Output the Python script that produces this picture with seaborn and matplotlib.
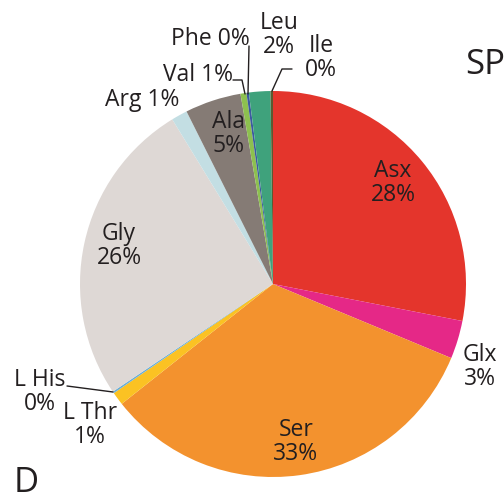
import matplotlib
matplotlib.use("Agg")
import matplotlib.pyplot as plt
import seaborn as sns

# Данни: аминокиселинен състав (по часовниковата стрелка от 12 часа)
acids = ["Asx", "Glx", "Ser", "L Thr", "L His", "Gly", "Arg", "Ala", "Val", "Phe", "Leu", "Ile"]
shares = [28.1, 3.2, 33.1, 1.1, 0.15, 25.7, 1.35, 4.7, 0.5, 0.2, 1.8, 0.2]
pct_labels = ["28%", "3%", "33%", "1%", "0%", "26%", "1%", "5%", "1%", "0%", "2%", "0%"]
colors = ["#E4352C", "#E52887", "#F3922E", "#FBC223", "#6AAED6", "#DED8D5",
          "#C3DEE3", "#857B75", "#8DC04F", "#3C5AA0", "#3FA27C", "#5B5A30"]

sns.set_theme(style="white")
plt.rcParams["font.family"] = ["Open Sans", "DejaVu Sans"]

W, H = 504, 502
CX, CY, R = 273, 285, 193


def px(x, y):
    """Пиксели -> координати на данните (радиус на пая = 1)."""
    return (x - CX) / R, (CY - y) / R


fig = plt.figure(figsize=(W / 100, H / 100), dpi=100)
ax = fig.add_axes([0, 0, 1, 1])
ax.pie(shares, colors=colors, startangle=90, counterclock=False,
       wedgeprops=dict(linewidth=0))
x0, _ = px(0, 0)
x1, _ = px(W, 0)
_, y1 = px(0, 0)
_, y0 = px(0, H)
ax.set_xlim(x0, x1)
ax.set_ylim(y0, y1)
ax.set_aspect("equal", adjustable="box")
ax.axis("off")

# Позиции на надписите (в пиксели)
label_pos = {
    "Asx": (393, 183, "two"),
    "Glx": (480, 367, "two"),
    "Ser": (296, 442, "two"),
    "L Thr": (90, 425, "two"),
    "L His": (40, 392, "two"),
    "Gly": (119, 246, "two"),
    "Arg": (142, 100, "one"),
    "Ala": (228, 134, "two"),
    "Val": (198, 75, "one"),
    "Phe": (210, 39, "one"),
    "Leu": (279, 35, "two"),
    "Ile": (321, 58, "two"),
}
for name, pct in zip(acids, pct_labels):
    x, y, kind = label_pos[name]
    txt = f"{name}\n{pct}" if kind == "two" else f"{name} {pct}"
    ax.text(*px(x, y), txt, ha="center", va="center", fontsize=16.5,
            linespacing=0.95, color="#231F20")

# Водещи линии за малките сектори
leaders = [
    [(67, 387), (113, 393)],               # L His
    [(233, 81), (242, 81), (245, 95)],     # Val
    [(249, 47), (248, 95)],                # Phe
    [(292, 70), (282, 70), (272, 92)],     # Ile
]
for pts in leaders:
    xs, ys = zip(*[px(a, b) for a, b in pts])
    ax.plot(xs, ys, color="#231F20", lw=1.0)

ax.text(*px(465, 65), "SP", ha="left", va="center", fontsize=25, color="#231F20")
ax.text(*px(14, 483), "D", ha="left", va="center", fontsize=25, color="#231F20")

fig.savefig("out.png", dpi=100)
